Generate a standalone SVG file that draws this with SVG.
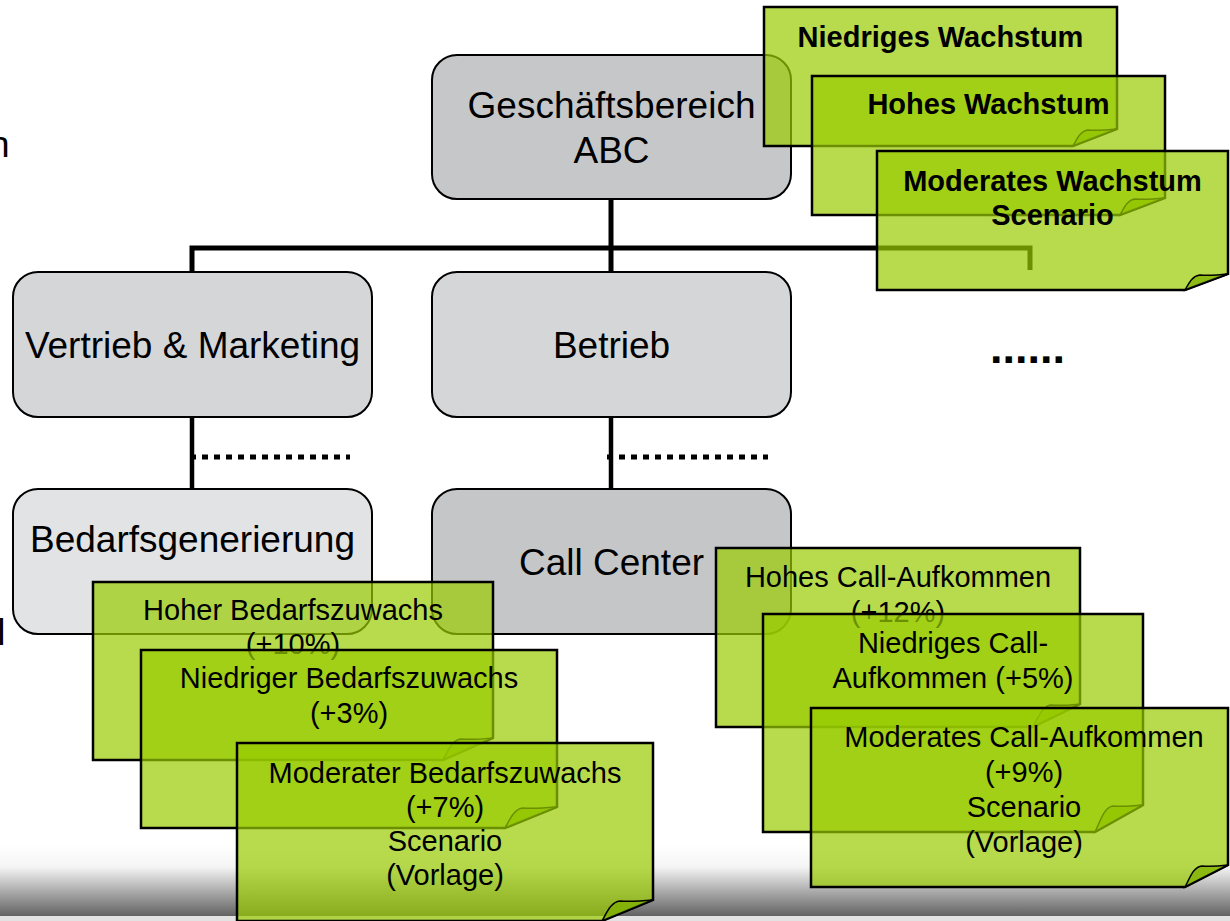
<svg xmlns="http://www.w3.org/2000/svg" width="1230" height="921" viewBox="0 0 1230 921">
<defs>
<linearGradient id="floor" x1="0" y1="0" x2="0" y2="1">
<stop offset="0" stop-color="#ffffff"/>
<stop offset="0.3" stop-color="#f4f4f4"/>
<stop offset="1" stop-color="#626262"/>
</linearGradient>
<style>
text{font-family:"Liberation Sans",Arial,sans-serif;fill:#000;text-anchor:middle}
.big{font-size:37px}
.nt{font-size:29px}
.bold{font-size:29px;font-weight:bold}
.box{stroke:#000;stroke-width:2}
.note{fill:#99cc00;fill-opacity:0.7;stroke:#000;stroke-width:2.5;stroke-linejoin:miter}
.curl{fill:#7fb000;fill-opacity:0.75;stroke:#000;stroke-width:1.5}
.conn{fill:none;stroke:#000;stroke-width:5}
.dot{fill:none;stroke:#000;stroke-width:5;stroke-dasharray:6 6}
</style>
</defs>
<rect x="0" y="0" width="1230" height="921" fill="#fff"/>
<rect x="0" y="846" width="1230" height="70" fill="url(#floor)"/>
<rect x="0" y="916" width="1230" height="5" fill="#e2e2e2"/>
<text class="big" x="-11" y="157" style="text-anchor:start">n</text>
<text class="big" x="-2.8" y="645" style="text-anchor:start">l</text>
<g id="connectors">
<path class="conn" d="M611,199 V272"/>
<path class="conn" d="M192,272 V248 H1030 V270"/>
<path class="conn" d="M192,417 V489" style="stroke-width:4.5"/>
<path class="conn" d="M611,417 V489" style="stroke-width:4.5"/>
<path class="dot" d="M190,457 H350"/>
<path class="dot" d="M607,457 H768"/>
</g>
<g id="n-geschaeftsbereich">
<rect class="box" x="432" y="55" width="359" height="144" rx="25" fill="#c6c7c9"/>
<text class="big" x="611.5" y="118">Geschäftsbereich</text>
<text class="big" x="611.5" y="163">ABC</text>
</g>
<g id="n-vertrieb">
<rect class="box" x="13" y="272" width="359" height="145" rx="25" fill="#d5d6d8"/>
<text class="big" x="192.5" y="358">Vertrieb &amp; Marketing</text>
</g>
<g id="n-betrieb">
<rect class="box" x="432" y="272" width="359" height="145" rx="25" fill="#d5d6d8"/>
<text class="big" x="611.5" y="358">Betrieb</text>
</g>
<g id="n-dots">
<text x="990" y="363" style="text-anchor:start;font-size:45px;font-weight:bold">......</text>
</g>
<g id="n-bedarf">
<rect class="box" x="13" y="489" width="359" height="145" rx="25" fill="#e2e3e5"/>
<text class="big" x="192.5" y="552">Bedarfsgenerierung</text>
</g>
<g id="n-callcenter">
<rect class="box" x="432" y="489" width="359" height="145" rx="25" fill="#c5c6c8"/>
<text class="big" x="611.5" y="575">Call Center</text>
</g>
<g id="note-niedriges-wachstum">
<path class="note" d="M764,7 H1117 V129 L1073,146 H764 Z"/>
<path class="curl" d="M1073,146 C1077,139 1080,131 1088,130 C1098,131 1108,130 1117,129 Z"/>
<text class="bold" x="940.5" y="47">Niedriges Wachstum</text>
</g>
<g id="note-hohes-wachstum">
<path class="note" d="M812,76 H1165 V198 L1120,215 H812 Z"/>
<path class="curl" d="M1120,215 C1124,208 1127,200 1135,199 C1145,200 1155,199 1165,198 Z"/>
<text class="bold" x="988.5" y="114">Hohes Wachstum</text>
</g>
<g id="note-moderates-wachstum">
<path class="note" d="M877,151 H1228 V274 L1185,290 H877 Z"/>
<path class="curl" d="M1185,290 C1189,283 1192,276 1200,275 C1210,276 1219,275 1228,274 Z"/>
<text class="bold" x="1052.5" y="191">Moderates Wachstum</text>
<text class="bold" x="1052.5" y="225">Scenario</text>
</g>
<g id="note-hoher-bedarf">
<path class="note" d="M93,582 H493 V738 L443,760 H93 Z"/>
<path class="curl" d="M443,760 C448,751 452,740 461,739 C472,740 482,739 493,738 Z"/>
<text class="nt" x="293" y="620">Hoher Bedarfszuwachs</text>
<text class="nt" x="293" y="654">(+10%)</text>
</g>
<g id="note-niedriger-bedarf">
<path class="note" d="M141,650 H557 V807 L505,828 H141 Z"/>
<path class="curl" d="M505,828 C510,819 514,809 523,808 C534,809 545,808 557,807 Z"/>
<text class="nt" x="349" y="688">Niedriger Bedarfszuwachs</text>
<text class="nt" x="349" y="723">(+3%)</text>
</g>
<g id="note-moderater-bedarf">
<path class="note" d="M237,743 H653 V900 L602,921 H237 Z"/>
<path class="curl" d="M602,921 C607,912 611,902 620,901 C631,902 642,901 653,900 Z"/>
<text class="nt" x="445" y="783">Moderater Bedarfszuwachs</text>
<text class="nt" x="445" y="817">(+7%)</text>
<text class="nt" x="445" y="851">Scenario</text>
<text class="nt" x="445" y="885">(Vorlage)</text>
</g>
<g id="note-hohes-call">
<path class="note" d="M716,548 H1080 V704 L1033,727 H716 Z"/>
<path class="curl" d="M1033,727 C1038,718 1042,706 1051,705 C1061,706 1070,705 1080,704 Z"/>
<text class="nt" x="898" y="587">Hohes Call-Aufkommen</text>
<text class="nt" x="898" y="622">(+12%)</text>
</g>
<g id="note-niedriges-call">
<path class="note" d="M763,614 H1143 V805 L1095,832 H763 Z"/>
<path class="curl" d="M1095,832 C1100,822 1104,807 1113,806 C1123,807 1133,806 1143,805 Z"/>
<text class="nt" x="953" y="653">Niedriges Call-</text>
<text class="nt" x="953" y="688">Aufkommen (+5%)</text>
</g>
<g id="note-moderates-call">
<path class="note" d="M811,708 H1228 V865 L1185,887 H811 Z"/>
<path class="curl" d="M1185,887 C1190,878 1193,867 1202,866 C1211,867 1220,866 1228,865 Z"/>
<text class="nt" x="1024" y="747">Moderates Call-Aufkommen</text>
<text class="nt" x="1024" y="782">(+9%)</text>
<text class="nt" x="1024" y="817">Scenario</text>
<text class="nt" x="1024" y="852">(Vorlage)</text>
</g>
</svg>
